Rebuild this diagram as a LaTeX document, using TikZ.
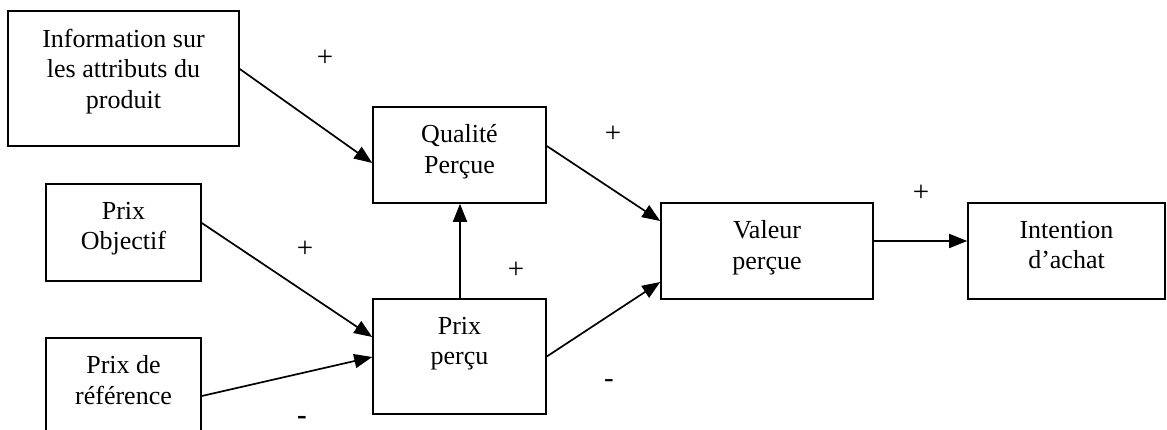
\documentclass[tikz,border=0pt]{standalone}
\usepackage{fontspec}
\setmainfont{Liberation Serif}
\usetikzlibrary{arrows.meta,calc}
\begin{document}
\begin{tikzpicture}[x=1pt,y=-1pt,
  box/.style={draw=black,line width=1.6pt,inner sep=0pt,minimum width=#1},
  lbl/.style={font=\fontsize{26}{30.5}\selectfont,align=center,inner sep=0pt,anchor=north},
  sign/.style={font=\fontsize{29}{30}\selectfont,inner sep=0pt},
  arr/.style={line width=1.7pt,-{Triangle[length=18pt,width=14pt]}}]
\useasboundingbox (0,0) rectangle (1167,430);
% boxes
\node[box=231pt,minimum height=135pt] (info) at (123.5,78.5) {};
\node[box=155pt,minimum height=97pt] (obj) at (123.5,232.5) {};
\node[box=155pt,minimum height=132pt] (ref) at (123.5,404) {};
\node[box=173pt,minimum height=96pt] (qual) at (459.5,155) {};
\node[box=173pt,minimum height=115pt] (pp) at (459.5,356.5) {};
\node[box=212pt,minimum height=96pt] (val) at (767,251) {};
\node[box=197pt,minimum height=96pt] (int) at (1066.5,251) {};
% texts
\node[lbl] (tinfo) at ([yshift=-18.5pt]info.north) {Information sur\\les attributs du\\produit};
\node[lbl] (tobj) at ([yshift=-18.5pt]obj.north) {Prix\\Objectif};
\node[lbl] (tref) at ([yshift=-18.5pt]ref.north) {Prix de\\référence};
\node[lbl] (tqual) at ([yshift=-18.5pt]qual.north) {Qualité\\Perçue};
\node[lbl] (tpp) at ([yshift=-18.5pt]pp.north) {Prix\\perçu};
\node[lbl] (tval) at ([yshift=-18.5pt]val.north) {Valeur\\perçue};
\node[lbl] (tint) at ([yshift=-18.5pt]int.north) {Intention\\d’achat};
% arrows
\draw[arr] ([yshift=9.5pt]info.east) -- ([yshift=-8pt]qual.west);
\draw[arr] ([yshift=9.5pt]obj.east) -- ([yshift=19.5pt]pp.west);
\draw[arr] ([yshift=8pt]ref.east) -- ([yshift=-0.5pt]pp.west);
\draw[arr] ([xshift=0.5pt]pp.north) -- ([xshift=0.5pt]qual.south);
\draw[arr] ([yshift=9pt]qual.east) -- ([yshift=30pt]val.west);
\draw[arr] (pp.east) -- ([yshift=-31pt]val.west);
\draw[arr] ([yshift=10pt]val.east) -- ([yshift=10pt]int.west);
% signs
\node[sign] (s1) at (325,58) {+};
\node[sign] (s2) at (305,249) {+};
\node[sign,font=\fontsize{29}{30}\bfseries] (s3) at (302,420) {-};
\node[sign] (s4) at (613,134) {+};
\node[sign] (s5) at (516,270) {+};
\node[sign] (s6) at (609,384) {-};
\node[sign] (s7) at (921,193) {+};
\end{tikzpicture}
\end{document}
